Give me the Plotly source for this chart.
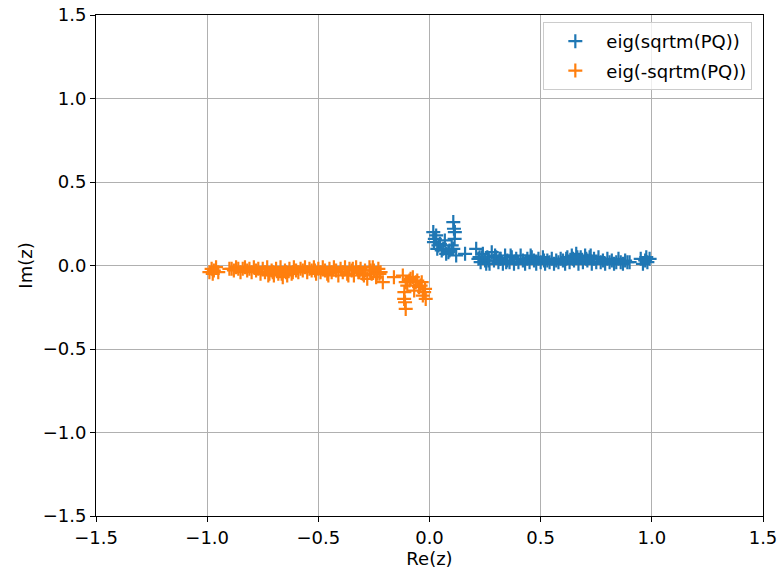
import plotly.graph_objects as go

# Eigenvalues of sqrtm(PQ): real and imaginary parts
re_pos = [0.017, 0.024, 0.030, 0.020, 0.040, 0.047, 0.035, 0.055, 0.062, 0.069, 0.075, 0.085, 0.090,
          0.107, 0.110, 0.114, 0.113, 0.100, 0.107, 0.120, 0.160, 0.210, 0.225,
          0.220, 0.230, 0.235, 0.240, 0.250, 0.255, 0.260, 0.270, 0.280, 0.290, 0.300, 0.310,
          0.320, 0.330, 0.340, 0.350, 0.360, 0.370, 0.380, 0.390, 0.400, 0.410, 0.420, 0.430,
          0.440, 0.450, 0.460, 0.470, 0.480, 0.490, 0.500, 0.510, 0.520, 0.530, 0.540, 0.550,
          0.560, 0.570, 0.580, 0.590, 0.600, 0.610, 0.620, 0.630, 0.640, 0.650, 0.660, 0.670,
          0.680, 0.690, 0.700, 0.710, 0.720, 0.730, 0.740, 0.750, 0.760, 0.770, 0.780, 0.790,
          0.800, 0.810, 0.820, 0.830, 0.840, 0.850, 0.860, 0.870, 0.880, 0.890, 0.900, 0.950,
          0.960, 0.970, 0.980, 0.990, 0.975, 0.265, 0.315, 0.365, 0.455, 0.515, 0.645, 0.665,
          0.705, 0.725, 0.615, 0.345, 0.295]
im_pos = [0.200, 0.160, 0.180, 0.140, 0.120, 0.130, 0.100, 0.090, 0.100, 0.150, 0.070, 0.080, 0.090,
          0.260, 0.220, 0.200, 0.160, 0.120, 0.100, 0.060, 0.070, 0.100, 0.050,
          0.040, 0.020, 0.050, 0.070, 0.030, 0.010, 0.050, 0.010, 0.080, 0.030, 0.050, 0.020,
          0.040, 0.010, 0.060, 0.030, 0.020, 0.050, 0.010, 0.040, 0.020, 0.060, 0.030, 0.010,
          0.040, 0.020, 0.050, 0.030, 0.010, 0.040, 0.020, 0.050, 0.010, 0.030, 0.020, 0.040,
          0.010, 0.030, 0.020, 0.040, 0.030, 0.010, 0.050, 0.020, 0.060, 0.030, 0.070, 0.010,
          0.050, 0.020, 0.060, 0.030, 0.050, 0.010, 0.040, 0.020, 0.050, 0.020, 0.030, 0.010,
          0.040, 0.020, 0.030, 0.010, 0.020, 0.040, 0.020, 0.010, 0.030, 0.020, 0.020, 0.040,
          0.010, 0.030, 0.020, 0.040, 0.050, 0.030, 0.040, 0.060, 0.060, 0.030, 0.040, 0.050,
          0.040, 0.060, 0.040, 0.020, 0.060]

# Eigenvalues of -sqrtm(PQ): real and imaginary parts
re_neg = [-0.017, -0.024, -0.030, -0.020, -0.040, -0.047, -0.035, -0.055, -0.062, -0.069, -0.075, -0.085, -0.090,
          -0.107, -0.110, -0.114, -0.113, -0.100, -0.107, -0.120, -0.160, -0.210, -0.225,
          -0.220, -0.230, -0.235, -0.240, -0.250, -0.255, -0.260, -0.270, -0.280, -0.290, -0.300, -0.310,
          -0.320, -0.330, -0.340, -0.350, -0.360, -0.370, -0.380, -0.390, -0.400, -0.410, -0.420, -0.430,
          -0.440, -0.450, -0.460, -0.470, -0.480, -0.490, -0.500, -0.510, -0.520, -0.530, -0.540, -0.550,
          -0.560, -0.570, -0.580, -0.590, -0.600, -0.610, -0.620, -0.630, -0.640, -0.650, -0.660, -0.670,
          -0.680, -0.690, -0.700, -0.710, -0.720, -0.730, -0.740, -0.750, -0.760, -0.770, -0.780, -0.790,
          -0.800, -0.810, -0.820, -0.830, -0.840, -0.850, -0.860, -0.870, -0.880, -0.890, -0.900, -0.950,
          -0.960, -0.970, -0.980, -0.990, -0.975, -0.265, -0.315, -0.365, -0.455, -0.515, -0.645, -0.665,
          -0.705, -0.725, -0.615, -0.345, -0.295]
im_neg = [-0.200, -0.160, -0.180, -0.140, -0.120, -0.130, -0.100, -0.090, -0.100, -0.150, -0.070, -0.080, -0.090,
          -0.260, -0.220, -0.200, -0.160, -0.120, -0.100, -0.060, -0.070, -0.100, -0.050,
          -0.040, -0.020, -0.050, -0.070, -0.030, -0.010, -0.050, -0.010, -0.080, -0.030, -0.050, -0.020,
          -0.040, -0.010, -0.060, -0.030, -0.020, -0.050, -0.010, -0.040, -0.020, -0.060, -0.030, -0.010,
          -0.040, -0.020, -0.050, -0.030, -0.010, -0.040, -0.020, -0.050, -0.010, -0.030, -0.020, -0.040,
          -0.010, -0.030, -0.020, -0.040, -0.030, -0.010, -0.050, -0.020, -0.060, -0.030, -0.070, -0.010,
          -0.050, -0.020, -0.060, -0.030, -0.050, -0.010, -0.040, -0.020, -0.050, -0.020, -0.030, -0.010,
          -0.040, -0.020, -0.030, -0.010, -0.020, -0.040, -0.020, -0.010, -0.030, -0.020, -0.020, -0.040,
          -0.010, -0.030, -0.020, -0.040, -0.050, -0.030, -0.040, -0.060, -0.060, -0.030, -0.040, -0.050,
          -0.040, -0.060, -0.040, -0.020, -0.060]

tick_vals = [-1.5, -1.0, -0.5, 0.0, 0.5, 1.0, 1.5]
tick_text = ["\u22121.5", "\u22121.0", "\u22120.5", "0.0", "0.5", "1.0", "1.5"]

FONT = "DejaVu Sans"
FSIZE = 18
BLUE = "#1f77b4"
ORANGE = "#ff7f0e"

fig = go.Figure()
for name, xs, ys, col, grp in [("eig(sqrtm(PQ))", re_pos, im_pos, BLUE, "a"),
                               ("eig(-sqrtm(PQ))", re_neg, im_neg, ORANGE, "b")]:
    fig.add_trace(go.Scatter(
        x=xs, y=ys, mode="markers", name=name, legendgroup=grp,
        marker=dict(symbol="cross-thin-open", size=10, color=col,
                    line=dict(color=col, width=2.2)),
    ))

axis_common = dict(
    range=[-1.5, 1.5], tickvals=tick_vals, ticktext=tick_text, automargin=False,
    showgrid=True, gridcolor="#b0b0b0", gridwidth=1,
    zeroline=False, showline=True, linecolor="black", linewidth=1, mirror=True,
    ticks="outside", ticklen=5, tickwidth=1, tickcolor="black",
    tickfont=dict(family=FONT, size=FSIZE, color="black"),
)

fig.update_layout(
    width=779, height=577,
    margin=dict(l=96, r=16, t=15, b=61),
    paper_bgcolor="white", plot_bgcolor="white",
    xaxis=dict(title=dict(text="Re(z)", font=dict(family=FONT, size=FSIZE, color="black"), standoff=3),
               **axis_common),
    yaxis=dict(title=dict(text="Im(z)", font=dict(family=FONT, size=FSIZE, color="black"), standoff=5),
               **axis_common),
    legend=dict(x=0.984, y=0.986, xanchor="right", yanchor="top",
                bgcolor="rgba(255,255,255,0.8)", bordercolor="#cccccc", borderwidth=1,
                font=dict(family=FONT, size=FSIZE, color="black"),
                traceorder="grouped", tracegroupgap=3, itemwidth=52),
    showlegend=True,
)

fig.write_html("out.html")
